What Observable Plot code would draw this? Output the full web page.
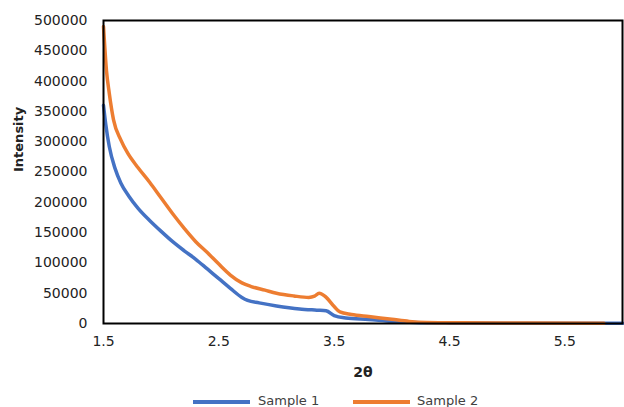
<!DOCTYPE html>
<html>
<head>
<meta charset="utf-8">
<script src="https://cdn.jsdelivr.net/npm/d3@7"></script>
<script src="https://cdn.jsdelivr.net/npm/@observablehq/plot@0.6"></script>
<style>
  html, body { margin: 0; padding: 0; background: #fff; }
  #wrap { position: relative; width: 624px; height: 407px; font-family: "DejaVu Sans", sans-serif; }
  #legend { position: absolute; left: 0; top: 392px; width: 624px; height: 15px; font-size: 13px; color: #404040; }
  .sw { position: absolute; top: 8px; height: 4px; width: 57px; }
  .lt { position: absolute; top: 1px; }
</style>
</head>
<body>
<div id="wrap">
  <div id="chart"></div>
  <div id="legend">
    <div class="sw" style="left:193px;background:#4472C4"></div>
    <div class="lt" style="left:258px">Sample 1</div>
    <div class="sw" style="left:353px;background:#ED7D31"></div>
    <div class="lt" style="left:417px">Sample 2</div>
  </div>
</div>
<script>
const seriesNames = ["Sample 1", "Sample 2"];
const colors = ["#4472C4", "#ED7D31"];
const xTicks = [1.5, 2.5, 3.5, 4.5, 5.5];
const yTicks = [0, 50000, 100000, 150000, 200000, 250000, 300000, 350000, 400000, 450000, 500000];

const s1x = [1.5, 1.52, 1.55, 1.6, 1.65, 1.72, 1.8, 1.9, 2.0, 2.1, 2.2, 2.3, 2.4, 2.5, 2.6, 2.7, 2.75, 2.85, 3.0, 3.2, 3.35, 3.43, 3.5, 3.6, 3.8, 4.0, 4.2, 4.5, 5.0, 6.0];
const s1y = [360000, 328000, 292000, 256000, 232000, 210000, 190000, 170000, 152000, 135000, 120000, 106000, 90000, 74000, 58000, 43000, 38000, 34000, 29000, 24000, 22000, 21000, 13000, 9000, 6500, 3500, 1800, 1000, 600, 300];

const s2x = [1.5, 1.526, 1.55, 1.587, 1.65, 1.71, 1.8, 1.9, 2.0, 2.1, 2.2, 2.3, 2.4, 2.5, 2.6, 2.7, 2.78, 2.9, 3.0, 3.15, 3.28, 3.33, 3.37, 3.42, 3.5, 3.55, 3.65, 3.8, 4.0, 4.15, 4.3, 4.6, 5.0, 5.84];
const s2y = [490000, 417000, 380000, 336000, 303000, 281000, 257000, 233000, 207000, 181000, 157000, 135000, 117000, 98000, 80000, 67000, 61000, 55000, 50000, 45500, 43000, 45000, 50000, 45000, 28000, 19000, 15000, 11500, 7000, 3500, 1800, 1100, 800, 500];

const data = [
  ...s1x.map((x, i) => ({series: seriesNames[0], x, y: s1y[i]})),
  ...s2x.map((x, i) => ({series: seriesNames[1], x, y: s2y[i]}))
];

const chart = Plot.plot({
  width: 624,
  height: 388,
  marginLeft: 103,
  marginRight: 2,
  marginTop: 20,
  marginBottom: 65,
  style: {fontFamily: "DejaVu Sans, sans-serif", fontSize: "14px", color: "#222"},
  x: {domain: [1.5, 6], ticks: xTicks, tickFormat: d => String(d), tickSize: 0, tickPadding: 13, label: null},
  y: {domain: [0, 500000], ticks: yTicks, tickFormat: d => String(d), tickSize: 0, tickPadding: 16, label: null},
  color: {domain: seriesNames, range: colors},
  marks: [
    Plot.line(data, {x: "x", y: "y", z: "series", stroke: "series", strokeWidth: 3.5, curve: "monotone-x"}),
    Plot.frame({stroke: "black", strokeWidth: 2}),
    Plot.text(["2θ"], {frameAnchor: "bottom", dy: 53, text: d => d, fontWeight: "bold", fontSize: 14, fill: "#222"}),
    Plot.text(["Intensity"], {frameAnchor: "left", dx: -85, rotate: -90, text: d => d, fontWeight: "bold", fontSize: 13, fill: "#222"})
  ]
});
document.getElementById("chart").appendChild(chart);
</script>
</body>
</html>
